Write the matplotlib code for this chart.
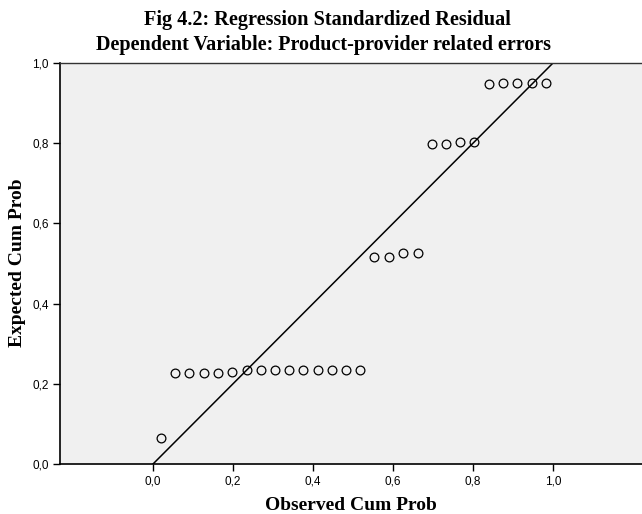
import matplotlib.pyplot as plt

# Observed vs expected cumulative probabilities (P-P plot)
observed = [0.020, 0.055, 0.091, 0.127, 0.163, 0.198, 0.234, 0.270, 0.305,
            0.341, 0.376, 0.412, 0.448, 0.483, 0.518,
            0.553, 0.590, 0.626, 0.662,
            0.697, 0.733, 0.768, 0.803,
            0.840, 0.875, 0.911, 0.947, 0.983]
expected = [0.065, 0.227, 0.227, 0.227, 0.227, 0.230, 0.234, 0.234, 0.234,
            0.234, 0.234, 0.234, 0.234, 0.234, 0.234,
            0.516, 0.516, 0.525, 0.525,
            0.797, 0.797, 0.804, 0.804,
            0.948, 0.950, 0.950, 0.950, 0.950]
ticks = [0.0, 0.2, 0.4, 0.6, 0.8, 1.0]
tick_labels = ["0,0", "0,2", "0,4", "0,6", "0,8", "1,0"]

fig = plt.figure(figsize=(6.42, 5.14), dpi=100)
W, H = 642, 514
ax = fig.add_axes([60 / W, 1 - 464 / H, (642 - 60) / W, (464 - 63) / H])
ax.set_facecolor("#f0f0f0")

ax.plot([0, 1], [0, 1], color="black", linewidth=1.1)
ax.plot(observed, expected, linestyle="none", marker="o", markersize=6.3,
        markerfacecolor="none", markeredgecolor="black", markeredgewidth=0.9)

ax.set_xlim(-0.2325, 1.2225)
ax.set_ylim(0, 1)
ax.set_xticks(ticks)
ax.set_xticklabels(tick_labels)
ax.set_yticks(ticks)
ax.set_yticklabels(tick_labels)
ax.tick_params(labelsize=8.5, length=5, width=1, colors="black", pad=3)
for lab in ax.get_xticklabels() + ax.get_yticklabels():
    lab.set_family("Liberation Sans")

ax.spines["right"].set_visible(False)
ax.spines["left"].set_linewidth(1.2)
ax.spines["bottom"].set_linewidth(1.2)
ax.spines["top"].set_linewidth(1.0)
ax.spines["top"].set_color("#333333")

serif = "Liberation Serif"
fig.text(327 / W, 1 - 20 / H, "Fig 4.2: Regression Standardized Residual",
         ha="center", va="center", fontsize=14.6, fontweight="bold", family=serif)
fig.text(323 / W, 1 - 45 / H, "Dependent Variable: Product-provider related errors",
         ha="center", va="center", fontsize=14.5, fontweight="bold", family=serif)
fig.text(351 / W, 1 - 505 / H, "Observed Cum Prob",
         ha="center", va="center", fontsize=14, fontweight="bold", family=serif)
fig.text(18 / W, 1 - 263 / H, "Expected Cum Prob", rotation=90,
         ha="center", va="center", fontsize=14, fontweight="bold", family=serif)

plt.savefig("out.png", dpi=100)
